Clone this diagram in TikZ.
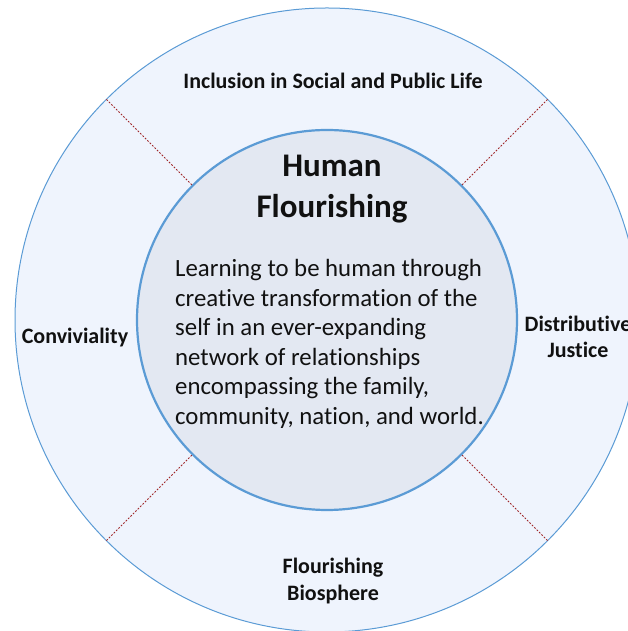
\documentclass[tikz,border=0pt]{standalone}
\usepackage{fontspec}
\setmainfont[Ligatures=NoCommon]{Carlito}
\definecolor{ringblue}{HTML}{5B9BD5}
\definecolor{outerfill}{HTML}{EFF4FD}
\definecolor{innerfill}{HTML}{E3E8F2}
\definecolor{dashred}{HTML}{A0282A}
\definecolor{ink}{HTML}{111111}
\begin{document}
\begin{tikzpicture}[x=1pt,y=1pt,
  ring/.style={circle,draw=ringblue,inner sep=0pt},
  sector/.style={draw=dashred,line width=0.9pt,dash pattern=on 1.8pt off 1.6pt},
  outerlabel/.style={text=ink,font=\fontsize{22}{26.5}\selectfont\bfseries,align=center,inner sep=0pt},
]
\useasboundingbox (0,0) rectangle (628,631);
\clip (0,0) rectangle (628,631);
\node[ring,fill=outerfill,line width=1pt,minimum size=624pt] (outer) at (327,311) {};
\node[ring,fill=innerfill,line width=2.2pt,minimum size=380pt] (inner) at (327,311) {};
\foreach \a in {45,135,225,315}{
  \draw[sector] (inner.\a) -- (outer.\a);
}
\node[outerlabel] (incl) at (333,550) {Inclusion in Social and Public Life};
\node[outerlabel] (conv) at (75,293) {Conviviality};
\node[outerlabel] (dist) at (578,294) {Distributive\\Justice};
\node[outerlabel] (bios) at (333,50) {Flourishing\\Biosphere};
\node[text=ink,font=\fontsize{33}{41}\selectfont\bfseries,align=center,inner sep=0pt] (title) at (332,442) {Human\\Flourishing};
\node[text=ink,font=\fontsize{24.8}{29.6}\selectfont,align=left,inner sep=0pt,anchor=north west] (body) at (175,372)
{Learning to be human through\\creative transformation of the\\self in an ever-expanding\\network of relationships\\encompassing the family,\\community, nation, and world.};
\end{tikzpicture}
\end{document}
